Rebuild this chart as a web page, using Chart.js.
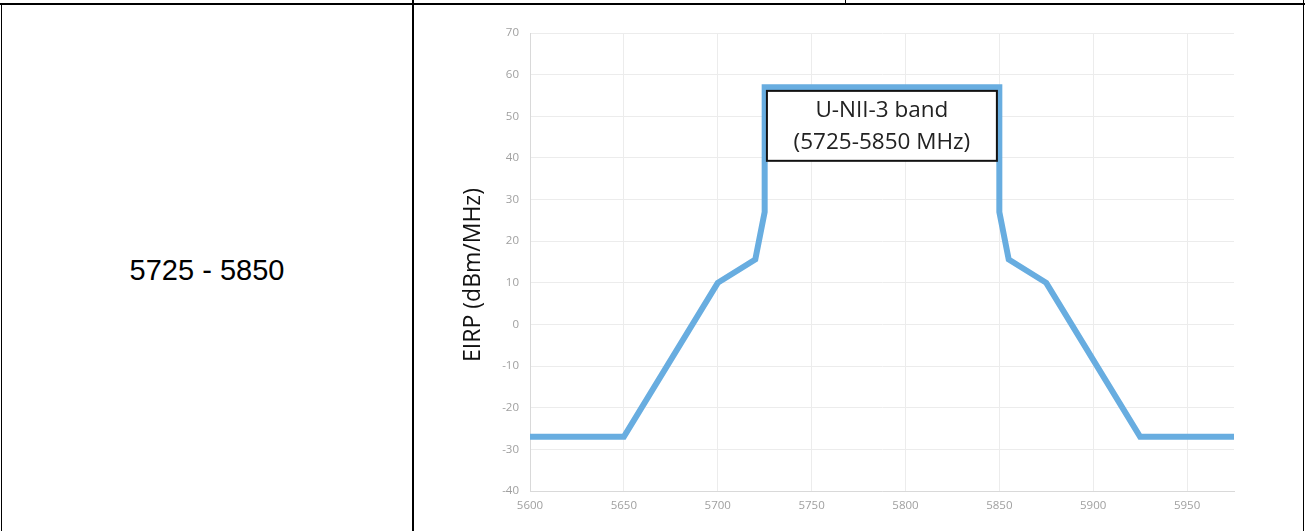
<!DOCTYPE html>
<html>
<head>
<meta charset="utf-8">
<script src="https://cdn.jsdelivr.net/npm/chart.js@4.4.1/dist/chart.umd.min.js"></script>
<style>
  html, body { margin: 0; padding: 0; background: #fff; }
  body { width: 1305px; height: 531px; position: relative; overflow: hidden; }
  .ln { position: absolute; background: #000; }
  #cellText { position: absolute; left: 2px; width: 410px; top: 254px; text-align: center;
    font-family: "Liberation Sans", Arial, sans-serif; font-size: 29px; color: #000; }
  #wrap { position: absolute; left: 414px; top: 5px; width: 889px; height: 526px; }
</style>
</head>
<body>
<div class="ln" style="left:0;top:3px;width:1305px;height:2px"></div>
<div class="ln" style="left:1px;top:3px;width:1px;height:528px"></div>
<div class="ln" style="left:412px;top:0;width:2px;height:531px"></div>
<div class="ln" style="left:845px;top:0;width:1px;height:4px"></div>
<div class="ln" style="left:1303px;top:0;width:1px;height:531px"></div>
<div id="cellText">5725 - 5850</div>
<div id="wrap"><canvas id="myChart"></canvas></div>
<script>
// EIRP mask for the U-NII-3 band
const freqs = [5600, 5650, 5700, 5720, 5725, 5725, 5850, 5850, 5855, 5875, 5925, 5975];
const eirp  = [-27, -27, 10, 15.6, 27, 57, 57, 27, 15.6, 10, -27, -27];
const xTicks = [5600, 5650, 5700, 5750, 5800, 5850, 5900, 5950];
const yTicks = [-40, -30, -20, -10, 0, 10, 20, 30, 40, 50, 60, 70];
const yTitle = 'EIRP (dBm/MHz)';
const boxLines = ['U-NII-3 band', '(5725-5850 MHz)'];
const boxRange = { x1: 5726.2, x2: 5848.7, y1: 39.3, y2: 56.1 };

const points = freqs.map((f, i) => ({ x: f, y: eirp[i] }));

// axis title (sits a bit below centre, like the original) and the band label box
const extras = {
  id: 'extras',
  afterDatasetsDraw(chart) {
    const { ctx, scales, chartArea } = chart;
    ctx.save();
    ctx.translate(chartArea.left - 57, (chartArea.top + chartArea.bottom) / 2 + 13);
    ctx.rotate(-Math.PI / 2);
    ctx.fillStyle = '#111';
    ctx.font = '23px "Open Sans"';
    ctx.textAlign = 'center';
    ctx.textBaseline = 'middle';
    ctx.fillText(yTitle, 0, 0);
    ctx.restore();

    const l = scales.x.getPixelForValue(boxRange.x1);
    const r = scales.x.getPixelForValue(boxRange.x2);
    const t = scales.y.getPixelForValue(boxRange.y2);
    const b = scales.y.getPixelForValue(boxRange.y1);
    ctx.save();
    ctx.fillStyle = '#fff';
    ctx.fillRect(l, t, r - l, b - t);
    ctx.strokeStyle = '#111';
    ctx.lineWidth = 2;
    ctx.strokeRect(l, t, r - l, b - t);
    ctx.fillStyle = '#222';
    ctx.font = '22.5px "Open Sans"';
    ctx.textAlign = 'center';
    ctx.textBaseline = 'middle';
    const cx = (l + r) / 2;
    ctx.fillText(boxLines[0], cx, t + 20);
    ctx.fillText(boxLines[1], cx, t + 52);
    ctx.restore();
  }
};

const config = {
  type: 'line',
  data: {
    datasets: [{
      data: points,
      borderColor: '#68ade0',
      borderWidth: 6,
      pointRadius: 0,
      tension: 0,
      fill: false
    }]
  },
  options: {
    responsive: true,
    maintainAspectRatio: false,
    animation: false,
    layout: { padding: { top: 28, right: 69, left: 0, bottom: 0 } },
    plugins: { legend: { display: false }, tooltip: { enabled: false } },
    scales: {
      x: {
        type: 'linear',
        min: 5600, max: 5975,
        afterBuildTicks(s) { s.ticks = xTicks.map(v => ({ value: v })); },
        afterFit(s) { s.height = 40; },
        grid: { color: '#ececec', drawTicks: false },
        border: { color: '#d9d9d9' },
        ticks: { padding: 8, color: '#a0a0a0', font: { family: 'Open Sans', size: 11.5 }, maxRotation: 0,
          callback: v => String(v) }
      },
      y: {
        min: -40, max: 70,
        afterBuildTicks(s) { s.ticks = yTicks.map(v => ({ value: v })); },
        afterFit(s) { s.width = 116; },
        grid: { color: '#ececec', drawTicks: false },
        border: { color: '#d9d9d9' },
        ticks: { padding: 11, color: '#a0a0a0', font: { family: 'Open Sans', size: 11.5 },
          callback: v => String(v) }
      }
    }
  },
  plugins: [extras]
};

const myChart = new Chart(document.getElementById('myChart'), config);
</script>
</body>
</html>
